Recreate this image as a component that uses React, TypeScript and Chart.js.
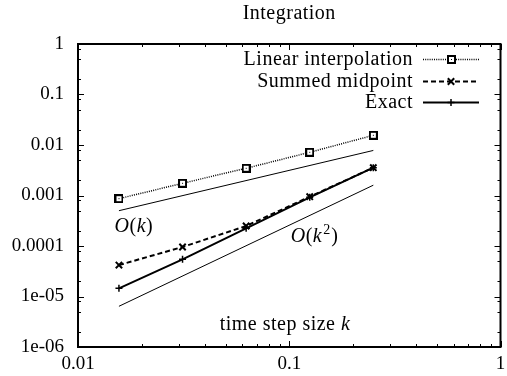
import React, { useEffect, useRef } from 'react';
import { Chart, registerables } from 'chart.js';

Chart.register(...registerables);

// ---- data ----
const stepSizes = [0.015625, 0.03125, 0.0625, 0.125, 0.25];
const linearInterp = [8.65e-4, 1.745e-3, 3.46e-3, 7.17e-3, 1.556e-2];
const summedMidpoint = [4.2e-5, 9.55e-5, 2.49e-4, 9.46e-4, 3.56e-3];
const exactErr = [1.45e-5, 5.45e-5, 2.24e-4, 9.2e-4, 3.56e-3];
const refX = [0.015625, 0.25];
const refOrder1 = [5.0e-4, 7.8e-3];
const refOrder2 = [6.4e-6, 1.6e-3];
const seriesNames = ['Linear interpolation', 'Summed midpoint', 'Exact'];
const xTickValues = [0.01, 0.1, 1];
const xTickLabels = ['0.01', '0.1', '1'];
const yTickValues = [1, 0.1, 0.01, 0.001, 0.0001, 1e-5, 1e-6];
const yTickLabels = ['1', '0.1', '0.01', '0.001', '0.0001', '1e-05', '1e-06'];
const xMinorMult = [2, 3, 4, 5, 6, 7, 8, 9];
const yMinorMult = [2, 5, 8];
const titleText = 'Integration';

const SERIF = '"Liberation Serif", "DejaVu Serif", serif';

function makeBoxMarker(): HTMLCanvasElement {
  const c = document.createElement('canvas');
  c.width = 9;
  c.height = 9;
  const g = c.getContext('2d')!;
  g.fillStyle = '#000';
  g.fillRect(0, 0, 9, 9);
  g.fillStyle = '#fff';
  g.fillRect(2, 2, 5, 5);
  g.fillStyle = '#000';
  g.fillRect(4, 4, 1, 1);
  return c;
}

function pts(xs: number[], ys: number[]) {
  return xs.map((x, i) => ({ x, y: ys[i] }));
}

function drawMarker(ctx: CanvasRenderingContext2D, kind: string, x: number, y: number, img: HTMLCanvasElement) {
  ctx.save();
  ctx.strokeStyle = '#000';
  ctx.setLineDash([]);
  if (kind === 'box') {
    ctx.drawImage(img, Math.round(x - 4.5), Math.round(y - 4.5));
  } else if (kind === 'x') {
    const r = 3.2;
    ctx.lineWidth = 2;
    ctx.beginPath();
    ctx.moveTo(x - r, y - r); ctx.lineTo(x + r, y + r);
    ctx.moveTo(x - r, y + r); ctx.lineTo(x + r, y - r);
    ctx.stroke();
  } else {
    const r = 3.5;
    ctx.lineWidth = 1.5;
    ctx.beginPath();
    ctx.moveTo(x - r, y); ctx.lineTo(x + r, y);
    ctx.moveTo(x, y - r); ctx.lineTo(x, y + r);
    ctx.stroke();
  }
  ctx.restore();
}

function drawRuns(ctx: CanvasRenderingContext2D, runs: [string, string][], x: number, y: number, align: 'left' | 'center' | 'right') {
  let total = 0;
  const widths = runs.map(([t, f]) => { ctx.font = f; const w = ctx.measureText(t).width; total += w; return w; });
  let cx = align === 'left' ? x : align === 'center' ? x - total / 2 : x - total;
  ctx.textAlign = 'left';
  runs.forEach(([t, f], i) => {
    ctx.font = f;
    ctx.fillText(t, cx, y);
    cx += widths[i];
  });
}

export default function App() {
  const ref = useRef<HTMLCanvasElement | null>(null);

  useEffect(() => {
    document.body.style.margin = '0';
    const canvas = ref.current!;
    const boxImg = makeBoxMarker();
    const markerKinds = ['box', 'x', 'plus'];

    const decor = {
      id: 'decor',
      afterDatasetsDraw(chart: any) {
        const { ctx, chartArea: a, scales } = chart;
        const xs = scales.x;
        const ys = scales.y;
        ctx.save();
        ctx.strokeStyle = '#000';
        ctx.fillStyle = '#000';
        ctx.setLineDash([]);

        // frame
        ctx.lineWidth = 2;
        ctx.strokeRect(a.left, a.top, a.right - a.left, a.bottom - a.top);

        // x ticks (bottom & top)
        ctx.lineWidth = 1;
        ctx.beginPath();
        for (let e = -2; e <= 0; e++) {
          [1, ...xMinorMult].forEach((m) => {
            const v = m * Math.pow(10, e);
            if (v > 1.0000001) return;
            const px = Math.round(xs.getPixelForValue(v)) + 0.5;
            const len = m === 1 ? 6 : 3;
            ctx.moveTo(px, a.bottom); ctx.lineTo(px, a.bottom - len);
            ctx.moveTo(px, a.top); ctx.lineTo(px, a.top + len);
          });
        }
        // y ticks (left & right)
        for (let e = -6; e <= 0; e++) {
          [1, ...yMinorMult].forEach((m) => {
            const v = m * Math.pow(10, e);
            if (v > 1.0000001) return;
            const py = Math.round(ys.getPixelForValue(v)) + 0.5;
            const len = m === 1 ? 6 : 3;
            ctx.moveTo(a.left, py); ctx.lineTo(a.left + len, py);
            ctx.moveTo(a.right, py); ctx.lineTo(a.right - len, py);
          });
        }
        ctx.stroke();

        // title
        (ctx as any).letterSpacing = '0.5px';
        ctx.textBaseline = 'alphabetic';
        ctx.font = `20px ${SERIF}`;
        ctx.textAlign = 'center';
        ctx.fillText(titleText, (a.left + a.right) / 2, 19);

        // legend
        const legendRight = 413;
        const baselines = [65, 86.5, 108];
        chart.data.datasets.slice(0, 3).forEach((ds: any, i: number) => {
          ctx.font = `20px ${SERIF}`;
          ctx.textAlign = 'right';
          ctx.fillText(seriesNames[i], legendRight, baselines[i]);
          const ly = Math.round(baselines[i] - 6) + 0.5;
          ctx.save();
          ctx.lineWidth = ds.borderWidth;
          ctx.setLineDash(ds.borderDash || []);
          ctx.beginPath();
          ctx.moveTo(423, ly);
          ctx.lineTo(479, ly);
          ctx.stroke();
          ctx.restore();
          drawMarker(ctx, markerKinds[i], 451, ly, boxImg);
        });

        // annotations
        const it = `italic 20px ${SERIF}`;
        const rm = `20px ${SERIF}`;
        const sup = `14px ${SERIF}`;
        const o1x = xs.getPixelForValue(0.0149);
        const o1y = ys.getPixelForValue(1.9e-4);
        drawRuns(ctx, [['O', it], ['(', rm], ['k', it], [')', rm]], o1x, o1y, 'left');

        const o2x = xs.getPixelForValue(0.1016);
        const o2y = ys.getPixelForValue(1.2e-4);
        ctx.font = it; const wO = ctx.measureText('O').width;
        ctx.font = rm; const wP = ctx.measureText('(').width;
        ctx.font = it; const wk = ctx.measureText('k').width;
        ctx.textAlign = 'left';
        ctx.font = it; ctx.fillText('O', o2x, o2y);
        ctx.font = rm; ctx.fillText('(', o2x + wO, o2y);
        ctx.font = it; ctx.fillText('k', o2x + wO + wP, o2y);
        ctx.font = sup; ctx.fillText('2', o2x + wO + wP + wk + 1, o2y - 8);
        const w2 = ctx.measureText('2').width;
        ctx.font = rm; ctx.fillText(')', o2x + wO + wP + wk + w2 + 1.5, o2y);

        // x label inside plot
        drawRuns(ctx, [['time step size ', rm], ['k', it]], 285, a.bottom - 17, 'center');

        ctx.restore();
      },
    };

    const chart = new Chart(canvas, {
      type: 'line',
      data: {
        datasets: [
          {
            label: seriesNames[0],
            data: pts(stepSizes, linearInterp),
            borderColor: '#000',
            backgroundColor: '#000',
            borderWidth: 1.5,
            borderDash: [1, 1.2],
            pointStyle: boxImg as any,
            pointRadius: 4.5,
          },
          {
            label: seriesNames[1],
            data: pts(stepSizes, summedMidpoint),
            borderColor: '#000',
            backgroundColor: '#000',
            borderWidth: 2,
            borderDash: [5, 3],
            pointStyle: 'crossRot',
            pointRadius: 4.5,
            pointBorderWidth: 2,
          },
          {
            label: seriesNames[2],
            data: pts(stepSizes, exactErr),
            borderColor: '#000',
            backgroundColor: '#000',
            borderWidth: 2,
            pointStyle: 'cross',
            pointRadius: 3.5,
            pointBorderWidth: 1.5,
          },
          {
            label: 'O(k)',
            data: pts(refX, refOrder1),
            borderColor: '#000',
            borderWidth: 1,
            pointRadius: 0,
          },
          {
            label: 'O(k^2)',
            data: pts(refX, refOrder2),
            borderColor: '#000',
            borderWidth: 1,
            pointRadius: 0,
          },
        ],
      },
      options: {
        responsive: false,
        animation: false,
        devicePixelRatio: 1,
        layout: { padding: { top: 44, right: 4, left: 0, bottom: 0 } },
        plugins: {
          legend: { display: false },
          title: { display: false },
          tooltip: { enabled: false },
        },
        elements: { line: { tension: 0 } },
        scales: {
          x: {
            type: 'logarithmic',
            min: 0.01,
            max: 1,
            grid: { display: false, drawTicks: false },
            border: { display: false },
            afterBuildTicks: (s: any) => { s.ticks = xTickValues.map((v) => ({ value: v })); },
            afterFit: (s: any) => { s.height = 29; s.paddingLeft = 0; s.paddingRight = 0; },
            ticks: {
              autoSkip: false,
              maxRotation: 0,
              padding: 6,
              color: '#000',
              font: { family: SERIF, size: 19 },
              callback: (v: any) => { const i = xTickValues.findIndex((t) => Math.abs(t - v) / t < 1e-6); return i >= 0 ? xTickLabels[i] : ''; },
            },
          },
          y: {
            type: 'logarithmic',
            min: 1e-6,
            max: 1,
            grid: { display: false, drawTicks: false },
            border: { display: false },
            afterBuildTicks: (s: any) => { s.ticks = yTickValues.map((v) => ({ value: v })); },
            afterFit: (s: any) => { s.width = 78; s.paddingTop = 0; s.paddingBottom = 0; },
            ticks: {
              autoSkip: false,
              padding: 14,
              color: '#000',
              font: { family: SERIF, size: 19 },
              callback: (v: any) => { const i = yTickValues.findIndex((t) => Math.abs(t - v) / t < 1e-6); return i >= 0 ? yTickLabels[i] : ''; },
            },
          },
        },
      },
      plugins: [decor],
    } as any);

    return () => chart.destroy();
  }, []);

  return (
    <div style={{ position: 'absolute', left: 0, top: 0, width: 507, height: 376, background: '#fff' }}>
      <canvas ref={ref} width={507} height={376} style={{ display: 'block', width: 507, height: 376 }} />
    </div>
  );
}
